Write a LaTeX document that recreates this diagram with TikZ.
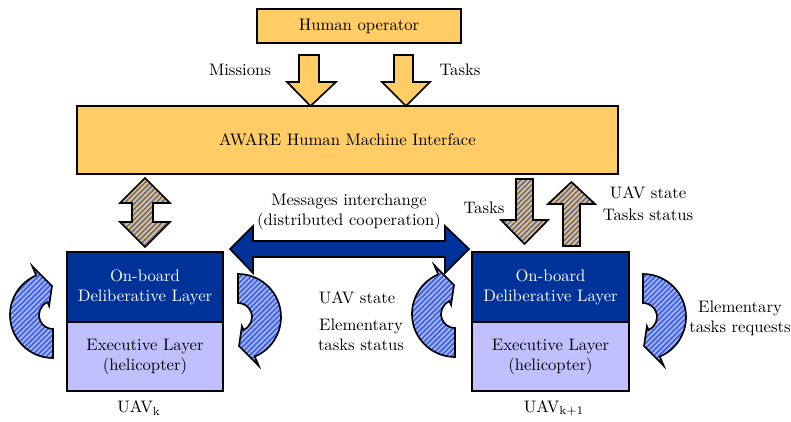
\documentclass[tikz,border=0pt]{standalone}
\usetikzlibrary{patterns.meta}
\definecolor{hyellow}{RGB}{255,204,102}
\definecolor{dblue}{RGB}{0,51,153}
\definecolor{lav}{RGB}{192,192,255}
\definecolor{cblue}{RGB}{70,100,225}
\definecolor{cstripe}{RGB}{170,190,255}
\definecolor{tanc}{RGB}{235,192,110}
\definecolor{gstripe}{RGB}{85,105,170}
\begin{document}
\begin{tikzpicture}[x=0.6pt,y=-0.6pt,
  ybox/.style={draw, line width=1pt, fill=hyellow, inner sep=0pt},
  dlbox/.style={draw, line width=1pt, fill=dblue, text=white, align=center, inner sep=0pt, minimum width=156*0.6pt, minimum height=70*0.6pt},
  exbox/.style={draw, line width=1pt, fill=lav, align=center, inner sep=0pt, minimum width=156*0.6pt, minimum height=69*0.6pt},
  blockarrow/.style={draw, line width=1pt, line join=miter},
  yarrow/.style={blockarrow, fill=hyellow},
  harrow/.style={blockarrow, preaction={fill=tanc}, pattern={Lines[angle=45,distance=2.2pt,line width=0.9pt]}, pattern color=gstripe},
  carrow/.style={blockarrow, preaction={fill=cblue}, pattern={Lines[angle=45,distance=2.2pt,line width=0.9pt]}, pattern color=cstripe},
  bluearrow/.style={blockarrow, fill=dblue},
  lbl/.style={align=center, inner sep=1pt},
  curv/.pic={
    \draw[carrow] (90:14) -- (90:43) arc[start angle=90,end angle=247,radius=43]
      -- (247:53) -- (268:29) -- (247:10) -- (247:14)
      arc[start angle=247,end angle=90,radius=14] -- cycle;
  }]
\useasboundingbox (0,0) rectangle (791,421);

% block arrows
\draw[yarrow] (299,55) -- (319,55) -- (319,82) -- (336,82) -- (310.5,106) -- (287,82) -- (299,82) -- cycle;
\draw[yarrow] (394,55) -- (413,55) -- (413,82) -- (430,82) -- (406,106) -- (382,82) -- (394,82) -- cycle;
\draw[harrow] (145,178) -- (170,203) -- (153,203) -- (153,222) -- (170,222) -- (145,247)
  -- (120,222) -- (132,222) -- (132,203) -- (120,203) -- cycle;
\draw[harrow] (516,179) -- (533,179) -- (533,220) -- (548,220) -- (524.5,244) -- (501,220) -- (516,220) -- cycle;
\draw[harrow] (563,246) -- (580,246) -- (580,204) -- (595,204) -- (571.5,182) -- (548,204) -- (563,204) -- cycle;
\draw[bluearrow] (230,249) -- (253,226) -- (253,241) -- (445,241) -- (445,226) -- (469,249)
  -- (445,273) -- (445,257) -- (253,257) -- (253,273) -- cycle;

% curved arrows
\pic at (53,315) {curv};
\pic[rotate=180] at (238,317) {curv};
\pic at (455,314) {curv};
\pic[rotate=180] at (643,317) {curv};

% boxes
\node[ybox, minimum width=204*0.6pt, minimum height=34*0.6pt] (human) at (359,26) {Human operator};
\node[ybox, minimum width=541*0.6pt, minimum height=68*0.6pt] (hmi) at (347.5,140) {AWARE Human Machine Interface};
\node[dlbox] (dl1) at (145,287) {On-board\\Deliberative Layer};
\node[exbox] (ex1) at (145,356.5) {Executive Layer\\(helicopter)};
\node[dlbox, minimum width=157*0.6pt] (dl2) at (550.5,287) {On-board\\Deliberative Layer};
\node[exbox, minimum width=157*0.6pt] (ex2) at (550.5,356.5) {Executive Layer\\(helicopter)};

% labels
\node[lbl] (lmis) at (240,70) {Missions};
\node[lbl] (ltask) at (460,70) {Tasks};
\node[lbl] (lmsg) at (349,212) {Messages interchange\\(distributed cooperation)};
\node[lbl] (ltask2) at (484,208) {Tasks};
\node[lbl] (lstate) at (648,193) {UAV state};
\node[lbl] (lstatus) at (648,215) {Tasks status};
\node[lbl] (lstate2) at (357,298) {UAV state};
\node[lbl] (lelem) at (361,335) {Elementary\\tasks status};
\node[lbl] (lreq) at (740,318) {Elementary\\tasks requests};
\node[lbl] (luav1) at (139,408) {UAV$_\mathrm{k}$};
\node[lbl] (luav2) at (554,408) {UAV$_\mathrm{k+1}$};
\end{tikzpicture}
\end{document}
